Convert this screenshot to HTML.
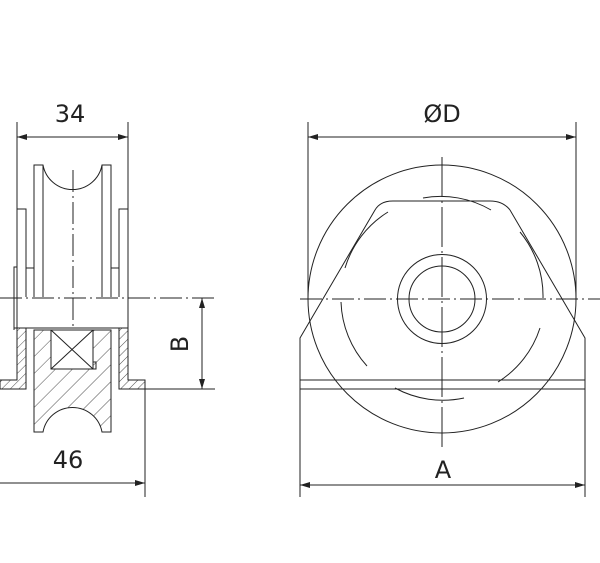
<!DOCTYPE html><html><head><style>body{margin:0;background:#fff}svg{display:block}text{font-family:"DejaVu Sans","Liberation Sans",sans-serif;fill:#222}</style></head><body>
<svg width="600" height="563" viewBox="0 0 600 563" xmlns="http://www.w3.org/2000/svg">
<defs>
<pattern id="h" width="6" height="6" patternUnits="userSpaceOnUse" patternTransform="rotate(45)"><line x1="0" y1="0" x2="0" y2="6" stroke="#222" stroke-width="0.8"/></pattern>
<pattern id="h2" width="12" height="12" patternUnits="userSpaceOnUse" patternTransform="rotate(45)"><line x1="0" y1="0" x2="0" y2="12" stroke="#222" stroke-width="0.8"/></pattern>
<marker id="a" markerWidth="10" markerHeight="6" refX="10" refY="3" orient="auto" markerUnits="userSpaceOnUse"><path d="M0,0 L10,3 L0,6z" fill="#222"/></marker>
<marker id="b" markerWidth="10" markerHeight="6" refX="0" refY="3" orient="auto" markerUnits="userSpaceOnUse"><path d="M10,0 L0,3 L10,6z" fill="#222"/></marker>
</defs>
<g fill="none" stroke="#222" stroke-width="1">
<!-- left view -->
<line x1="17" y1="122" x2="17" y2="330"/><line x1="128" y1="122" x2="128" y2="330"/>
<line x1="17" y1="137" x2="128" y2="137" marker-start="url(#b)" marker-end="url(#a)"/>
<path d="M34,297 V165 H43 A30,30 0 0 0 102,165 H111 V297"/>
<line x1="43" y1="165" x2="43" y2="297"/><line x1="102" y1="165" x2="102" y2="297"/>
<path d="M26,297 V209 H17"/><path d="M119,297 V209 H128"/>
<path d="M26,268 H34 M111,268 H119"/>
<path d="M14,330 V267 H17"/>
<line x1="14" y1="328" x2="128" y2="328"/>
<line x1="0" y1="298" x2="215" y2="298" stroke-dasharray="22,4,2,4"/>
<line x1="73" y1="170" x2="73" y2="330" stroke-dasharray="22,4,2,4"/>
<!-- section -->
<path d="M17,328 H26 V389 H0 V380 H17 Z" fill="url(#h)"/>
<path d="M119,328 H128 V380 H145 V389 H119 Z" fill="url(#h)"/>
<path d="M34,330 H111 V432 H102 A30,30 0 0 0 43,432 H34 Z" fill="url(#h2)"/>
<rect x="51" y="330" width="42" height="39" fill="#fff"/>
<path d="M51,330 L93,369 M93,330 L51,369"/>
<rect x="93" y="362" width="3" height="7"/>
<!-- B dim -->
<line x1="145" y1="389" x2="215" y2="389"/>
<line x1="202" y1="298" x2="202" y2="389" marker-start="url(#b)" marker-end="url(#a)"/>
<line x1="145" y1="389" x2="145" y2="497"/><line x1="0" y1="483" x2="145" y2="483" marker-end="url(#a)"/>
<!-- right view -->
<circle cx="442" cy="299" r="134"/>
<circle cx="442" cy="299" r="44.5"/><circle cx="442" cy="299" r="33"/>
<line x1="300" y1="299" x2="600" y2="299" stroke-dasharray="22,4,2,4"/>
<line x1="442" y1="157" x2="442" y2="450" stroke-dasharray="40,4,2,4"/>
<path d="M300,389 V338 L375,210 Q380,201 393,201 H490 Q503,201 510,210 L585,338 V389"/>
<rect x="300" y="380" width="285" height="9"/>
<line x1="300" y1="389" x2="300" y2="497"/><line x1="585" y1="389" x2="585" y2="497"/>
<line x1="300" y1="485" x2="585" y2="485" marker-start="url(#b)" marker-end="url(#a)"/>
<line x1="308" y1="122" x2="308" y2="299"/><line x1="576" y1="122" x2="576" y2="299"/>
<line x1="308" y1="137" x2="576" y2="137" marker-start="url(#b)" marker-end="url(#a)"/>
<path d="M423,198 A100,100 0 0 1 491,210"/>
<path d="M388,212 A100,100 0 0 0 345,268"/>
<path d="M520,232 A100,100 0 0 1 543,298"/>
<path d="M341,302 A100,100 0 0 0 367,366"/>
<path d="M540,328 A100,100 0 0 1 498,382"/>
<path d="M395,388 A100,100 0 0 0 464,398"/>
</g>
<text x="70" y="122" font-size="24" text-anchor="middle">34</text>
<text x="68" y="468" font-size="24" text-anchor="middle">46</text>
<text x="442" y="122" font-size="24" text-anchor="middle">ØD</text>
<text x="443" y="478" font-size="24" text-anchor="middle">A</text>
<text x="0" y="0" font-size="24" text-anchor="middle" transform="translate(188,344) rotate(-90)">B</text>
</svg></body></html>
